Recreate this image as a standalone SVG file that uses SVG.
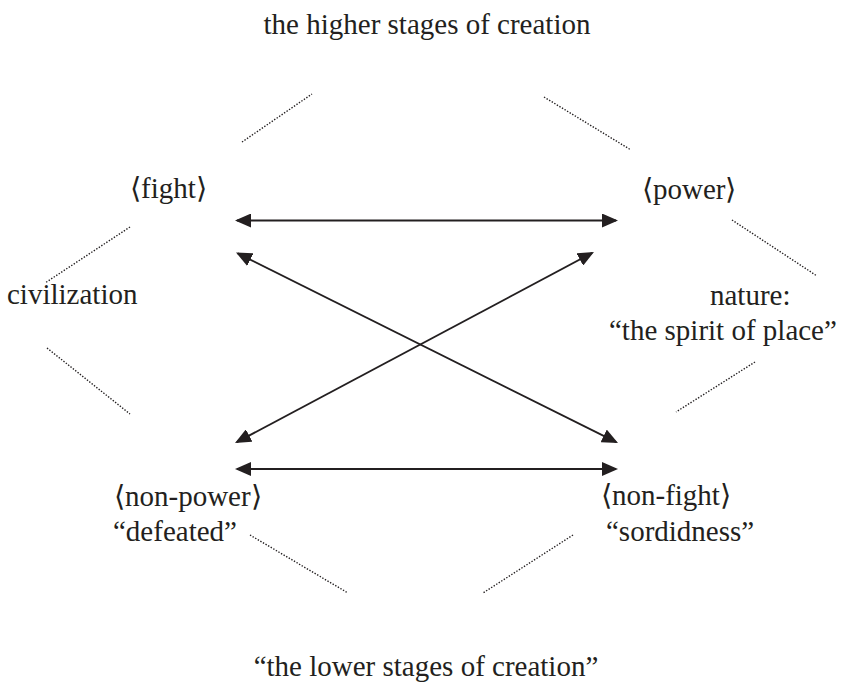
<svg xmlns="http://www.w3.org/2000/svg" width="842" height="685" viewBox="0 0 842 685">
<style>
  text { font-family: "Liberation Serif", "Times New Roman", serif; font-size: 29px; fill: #231f20; }
  .mid { text-anchor: middle; }
  .arrow { stroke: #231f20; stroke-width: 2; fill: none; }
  .diag { stroke: #231f20; stroke-width: 1.8; fill: none; }
  .dot { stroke: #231f20; stroke-width: 1.4; stroke-dasharray: 1.4 1.6; fill: none; }
</style>
<defs>
  <marker id="ah" markerUnits="userSpaceOnUse" viewBox="0 0 16 14" refX="14" refY="7" markerWidth="16" markerHeight="14" orient="auto-start-reverse">
    <path d="M0,0 L16,7 L0,14 Z" fill="#231f20"/>
  </marker>
</defs>
<rect width="842" height="685" fill="#ffffff"/>

<g id="title-top"><text class="mid" x="427" y="34">the higher stages of creation</text></g>
<g id="title-bottom"><text class="mid" x="426" y="676">“the lower stages of creation”</text></g>
<g id="fight"><text x="130" y="198">⟨fight⟩</text></g>
<g id="power"><text x="642" y="199">⟨power⟩</text></g>
<g id="civilization"><text x="7" y="304">civilization</text></g>
<g id="nature">
  <text x="710" y="305">nature:</text>
  <text x="609" y="340">“the spirit of place”</text>
</g>
<g id="non-power">
  <text x="114" y="506">⟨non-power⟩</text>
  <text x="113" y="541">“defeated”</text>
</g>
<g id="non-fight">
  <text x="601" y="505">⟨non-fight⟩</text>
  <text x="606" y="541">“sordidness”</text>
</g>

<g id="connectors">
  <line class="arrow" x1="237" y1="220.5" x2="616" y2="220.5" marker-start="url(#ah)" marker-end="url(#ah)"/>
  <line class="arrow" x1="237" y1="469" x2="616" y2="469" marker-start="url(#ah)" marker-end="url(#ah)"/>
  <line class="diag" x1="237.8" y1="253.4" x2="616.2" y2="442.1" marker-start="url(#ah)" marker-end="url(#ah)"/>
  <line class="diag" x1="236.8" y1="442.1" x2="592.2" y2="252.9" marker-start="url(#ah)" marker-end="url(#ah)"/>
</g>

<g id="dotted">
  <line class="dot" x1="242" y1="142" x2="312" y2="94"/>
  <line class="dot" x1="130" y1="227" x2="45" y2="283"/>
  <line class="dot" x1="544" y1="97" x2="631" y2="150"/>
  <line class="dot" x1="732" y1="220" x2="817" y2="276"/>
  <line class="dot" x1="47" y1="348" x2="130" y2="414"/>
  <line class="dot" x1="250" y1="535" x2="348" y2="593"/>
  <line class="dot" x1="755" y1="362" x2="676" y2="412"/>
  <line class="dot" x1="573" y1="535" x2="483" y2="593"/>
</g>
</svg>
